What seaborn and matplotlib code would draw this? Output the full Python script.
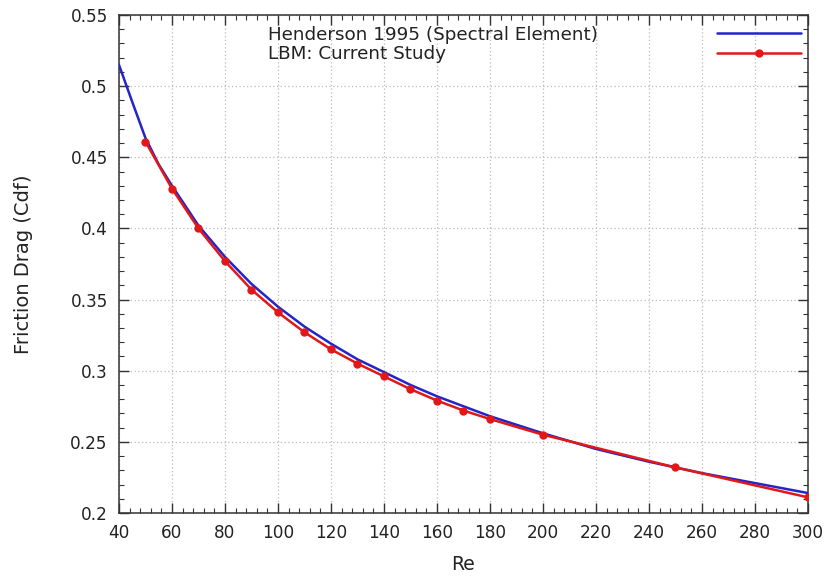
import matplotlib
matplotlib.use("Agg")
import matplotlib.pyplot as plt
from matplotlib.lines import Line2D
from matplotlib.ticker import MultipleLocator, FuncFormatter
import seaborn as sns
import pandas as pd

# Henderson (1995) spectral-element friction drag
re_henderson = [40, 45, 50, 55, 60, 70, 80, 90, 100, 110, 120, 130, 140, 150,
                160, 180, 200, 220, 240, 260, 280, 300]
cdf_henderson = [0.515, 0.489, 0.4635, 0.445, 0.430, 0.402, 0.380, 0.361,
                 0.345, 0.331, 0.319, 0.308, 0.299, 0.290, 0.282, 0.268,
                 0.256, 0.245, 0.236, 0.228, 0.221, 0.214]

# Lattice Boltzmann results
re_lbm = [50, 60, 70, 80, 90, 100, 110, 120, 130, 140, 150, 160, 170, 180,
          200, 250, 300]
cdf_lbm = [0.461, 0.428, 0.400, 0.377, 0.357, 0.341, 0.327, 0.315, 0.305,
           0.296, 0.287, 0.279, 0.272, 0.266, 0.255, 0.232, 0.211]

label_henderson = "Henderson 1995 (Spectral Element)"
label_lbm = "LBM: Current Study"

df_h = pd.DataFrame({"Re": re_henderson, "Cdf": cdf_henderson})
df_l = pd.DataFrame({"Re": re_lbm, "Cdf": cdf_lbm})

sns.set_style("ticks")
plt.rcParams["font.family"] = ["DejaVu Sans"]

BLUE = "#2424c8"
RED = "#e01818"
TXT = "#222222"

fig = plt.figure(figsize=(8.25, 5.78), dpi=100)
ax = fig.add_axes([0.1442, 0.1125, 0.8352, 0.8615])

sns.lineplot(data=df_h, x="Re", y="Cdf", ax=ax, color=BLUE, linewidth=1.8,
             zorder=3)
sns.lineplot(data=df_l, x="Re", y="Cdf", ax=ax, color=RED, linewidth=1.8,
             marker="o", markersize=6, markeredgewidth=0, zorder=4)

ax.set_xlim(40, 300)
ax.set_ylim(0.2, 0.55)
ax.xaxis.set_major_locator(MultipleLocator(20))
ax.xaxis.set_minor_locator(MultipleLocator(4))
ax.yaxis.set_major_locator(MultipleLocator(0.05))
ax.yaxis.set_minor_locator(MultipleLocator(0.01))
ax.yaxis.set_major_formatter(FuncFormatter(lambda v, p: f"{v:g}"))

ax.tick_params(which="both", direction="in", top=True, right=True,
               color="#333333", labelsize=12.2, labelcolor=TXT)
ax.tick_params(which="major", length=7, width=1, pad=8)
ax.tick_params(which="minor", length=3.5, width=0.8)

ax.grid(True, which="major", linestyle=(0, (1, 2)), color="#bbbbbb",
        linewidth=0.9)
for s in ax.spines.values():
    s.set_color("#333333")
    s.set_linewidth(1.1)

ax.set_xlabel("Re", fontsize=13.5, color=TXT, labelpad=9)
ax.set_ylabel("Friction Drag (Cdf)", fontsize=14, color=TXT, labelpad=27)

# Key: labels on the left, line samples on the right
h_blue = Line2D([], [], color=BLUE, linewidth=1.8)
h_red = Line2D([], [], color=RED, linewidth=1.8, marker="o", markersize=6,
               markeredgewidth=0)
blank = Line2D([], [], linestyle="none")
leg_text = ax.legend([blank, blank], [label_henderson, label_lbm],
                     loc="upper left", bbox_to_anchor=(0.2035, 0.997),
                     frameon=False, handlelength=0, handletextpad=0,
                     fontsize=13.2, labelspacing=0.08, borderpad=0,
                     labelcolor=TXT)
ax.add_artist(leg_text)
ax.legend([h_blue, h_red], [" ", " "], loc="upper right",
          bbox_to_anchor=(1.012, 0.997), frameon=False, handlelength=4.6,
          handletextpad=0, fontsize=13.2, labelspacing=0.08, borderpad=0)

fig.savefig("out.png", dpi=100)
